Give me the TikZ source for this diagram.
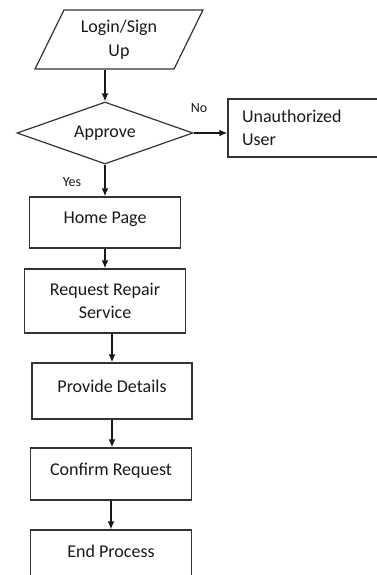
\documentclass[tikz,border=0pt]{standalone}
\usepackage{fontspec}
\setmainfont{Carlito}
\usetikzlibrary{shapes.geometric, arrows.meta}

\begin{document}
\begin{tikzpicture}[>={Latex[length=8pt,width=7pt]}, x=1pt, y=-1pt,
    every node/.style={text=black!90, font=\fontsize{18}{22.5}\selectfont},
    procbox/.style={draw=black!80, line width=1.2pt, rectangle, align=center},
    flow/.style={->, line width=1.7pt, black!90},
    small/.style={font=\fontsize{14}{16}\selectfont}]
\useasboundingbox (0,0) rectangle (377,575);

\node[trapezium, trapezium stretches=true, trapezium left angle=63, trapezium right angle=117,
      draw=black!80, line width=1.2pt, minimum width=168pt, minimum height=59pt, align=center,
      inner sep=0pt, font=\fontsize{18}{24}\selectfont] (login) at (119,39.5) {Login/Sign\\Up};
\node[diamond, aspect=2.8, draw=black!80, line width=1.2pt, minimum width=176pt, minimum height=62pt,
      inner sep=0pt] (approve) at (105,133) {Approve};
\node[draw=black!80, line width=1.2pt, text width=150pt, align=left, inner xsep=14pt,
      minimum height=58pt] (unauth) at (317,128) {Unauthorized\\User};

\node[procbox, minimum width=151pt, minimum height=51pt, text height=13pt, text depth=11pt] (home) at (105,222.5) {Home Page};
\node[procbox, minimum width=161pt, minimum height=64pt] (request) at (105,301) {Request Repair\\Service};
\node[procbox, minimum width=160pt, minimum height=56pt, text height=13pt, text depth=11pt] (provide) at (112,391) {Provide Details};
\node[procbox, minimum width=161pt, minimum height=52pt, text height=13pt, text depth=11pt] (confirm) at (111,474) {Confirm Request};
\node[procbox, minimum width=161pt, minimum height=52pt, text height=13pt, text depth=11pt] (endproc) at (111,556) {End Process};

\draw[flow] (approve.north |- login.south) -- (approve.north);
\draw[flow] (approve.east) -- (unauth.west |- approve.east);
\node[small] (no) at (199,108) {No};
\draw[flow] (approve.south) -- (approve.south |- home.north);
\node[small] (yes) at (72,182) {Yes};
\draw[flow] (home.south) -- (home.south |- request.north);
\draw[flow] (provide.north |- request.south) -- (provide.north);
\draw[flow] (provide.south) -- (provide.south |- confirm.north);
\draw[flow] (confirm.south) -- (confirm.south |- endproc.north);

\end{tikzpicture}
\end{document}
